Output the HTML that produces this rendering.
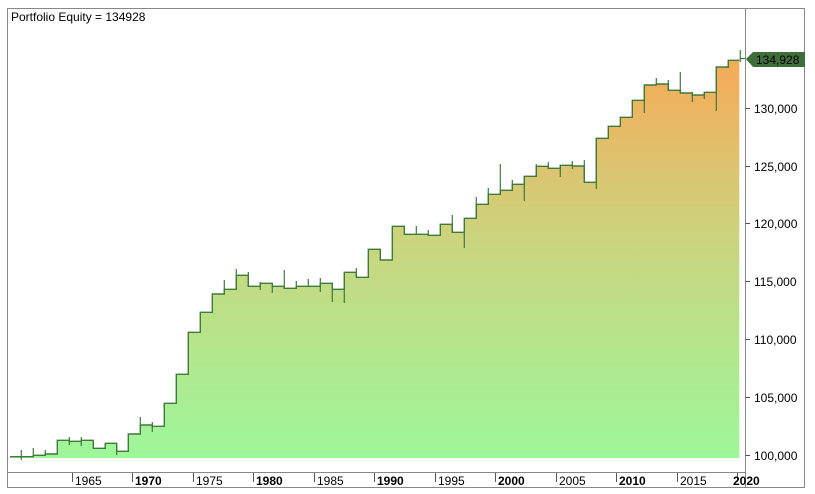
<!DOCTYPE html>
<html><head><style>
html,body{margin:0;padding:0;background:#fff;width:815px;height:494px;overflow:hidden}
svg{display:block;font-family:"Liberation Sans",Arial,sans-serif}
</style></head><body>
<svg width="815" height="494" viewBox="0 0 815 494" xmlns="http://www.w3.org/2000/svg">
<defs>
<linearGradient id="g" x1="0" y1="60" x2="0" y2="457" gradientUnits="userSpaceOnUse">
<stop offset="0" stop-color="#f7aa58"/>
<stop offset="0.45" stop-color="#cbd47e"/>
<stop offset="1" stop-color="#9ef79a"/>
</linearGradient>
</defs>
<rect x="7.5" y="8.5" width="797" height="479" fill="#fff" stroke="#888"/>
<line x1="745.5" y1="8" x2="745.5" y2="488" stroke="#888"/>
<line x1="7" y1="472.5" x2="745" y2="472.5" stroke="#888"/>
<text x="11" y="21" font-size="12" fill="#000">Portfolio Equity = 134928</text>
<path d="M10,456.7 H33.3 V455.3 H45.3 V454 H57.3 V440.3 H69.3 V441.3 H81.3 V440.3 H93.3 V448.3 H105.3 V443.3 H116.7 V451.3 H128.3 V434 H140.3 V425 H152.3 V426.3 H164.3 V403.3 H176.3 V374.3 H188.3 V332.3 H200.3 V312.3 H212.3 V294 H224.3 V289.3 H236.3 V275.3 H248.3 V286.3 H260.3 V283.3 H272.3 V286.3 H284.3 V288.3 H296.3 V286.3 H308.3 V286.3 H320.3 V283.3 H332.3 V289.3 H344.3 V272.3 H356.3 V277.3 H368.3 V249.3 H380.3 V260 H392.3 V226.3 H404.3 V234.3 H416.3 V234.3 H428.3 V235.3 H440.3 V224.3 H452.3 V232.3 H464.3 V218.3 H476.3 V204.3 H488.3 V194.3 H500.3 V190.3 H512.3 V184.3 H524.3 V176.3 H536.3 V166.3 H548.3 V168.3 H560.3 V165.3 H572.3 V166 H584.3 V182.3 H596.3 V138.3 H608.3 V126.3 H620.3 V117.3 H632.3 V100.3 H644.3 V85 H656.3 V84 H668.3 V90.3 H680.3 V93 H692.3 V95 H704.3 V92.3 H716.3 V67 H728.3 V60.3 H739.3 V458 H10 Z" fill="url(#g)"/>
<path d="M10,456.7 H33.3 V455.3 H45.3 V454 H57.3 V440.3 H69.3 V441.3 H81.3 V440.3 H93.3 V448.3 H105.3 V443.3 H116.7 V451.3 H128.3 V434 H140.3 V425 H152.3 V426.3 H164.3 V403.3 H176.3 V374.3 H188.3 V332.3 H200.3 V312.3 H212.3 V294 H224.3 V289.3 H236.3 V275.3 H248.3 V286.3 H260.3 V283.3 H272.3 V286.3 H284.3 V288.3 H296.3 V286.3 H308.3 V286.3 H320.3 V283.3 H332.3 V289.3 H344.3 V272.3 H356.3 V277.3 H368.3 V249.3 H380.3 V260 H392.3 V226.3 H404.3 V234.3 H416.3 V234.3 H428.3 V235.3 H440.3 V224.3 H452.3 V232.3 H464.3 V218.3 H476.3 V204.3 H488.3 V194.3 H500.3 V190.3 H512.3 V184.3 H524.3 V176.3 H536.3 V166.3 H548.3 V168.3 H560.3 V165.3 H572.3 V166 H584.3 V182.3 H596.3 V138.3 H608.3 V126.3 H620.3 V117.3 H632.3 V100.3 H644.3 V85 H656.3 V84 H668.3 V90.3 H680.3 V93 H692.3 V95 H704.3 V92.3 H716.3 V67 H728.3 V60.3 H739.3" fill="none" stroke="#3f7a3a" stroke-width="1.4"/>
<g stroke="#3f7a3a" stroke-width="1.2">
<line x1="21.3" y1="450" x2="21.3" y2="460"/><line x1="33.3" y1="448" x2="33.3" y2="456"/>
<line x1="45.3" y1="450" x2="45.3" y2="455"/><line x1="69.3" y1="437" x2="69.3" y2="445"/>
<line x1="81.3" y1="437" x2="81.3" y2="446"/><line x1="105.3" y1="443" x2="105.3" y2="449"/>
<line x1="116.7" y1="444" x2="116.7" y2="455"/>
<line x1="140.3" y1="417" x2="140.3" y2="432"/><line x1="152.3" y1="422" x2="152.3" y2="432"/>
<line x1="164.3" y1="403" x2="164.3" y2="408"/>
<line x1="224.3" y1="280" x2="224.3" y2="294"/><line x1="236.3" y1="269" x2="236.3" y2="289"/>
<line x1="248.3" y1="272" x2="248.3" y2="286"/><line x1="260.3" y1="282" x2="260.3" y2="290"/>
<line x1="272.3" y1="286" x2="272.3" y2="293"/><line x1="284.3" y1="270" x2="284.3" y2="288"/>
<line x1="296.3" y1="281" x2="296.3" y2="289"/><line x1="308.3" y1="279" x2="308.3" y2="286"/>
<line x1="320.3" y1="278" x2="320.3" y2="292"/><line x1="332.3" y1="289" x2="332.3" y2="302"/>
<line x1="344.3" y1="272" x2="344.3" y2="303"/><line x1="356.3" y1="268" x2="356.3" y2="277"/>
<line x1="416.3" y1="226" x2="416.3" y2="234"/><line x1="428.3" y1="230" x2="428.3" y2="235"/>
<line x1="452.3" y1="215" x2="452.3" y2="232"/><line x1="464.3" y1="232" x2="464.3" y2="248"/>
<line x1="476.3" y1="197" x2="476.3" y2="218"/><line x1="488.3" y1="188" x2="488.3" y2="204"/>
<line x1="500.3" y1="164" x2="500.3" y2="194"/><line x1="512.3" y1="180" x2="512.3" y2="190"/>
<line x1="524.3" y1="176" x2="524.3" y2="201"/><line x1="536.3" y1="164" x2="536.3" y2="176"/>
<line x1="548.3" y1="162" x2="548.3" y2="168"/><line x1="560.3" y1="165" x2="560.3" y2="177"/>
<line x1="572.3" y1="161" x2="572.3" y2="169"/><line x1="584.3" y1="160" x2="584.3" y2="182"/>
<line x1="596.3" y1="138" x2="596.3" y2="189"/>
<line x1="644.3" y1="85" x2="644.3" y2="113"/><line x1="656.3" y1="78" x2="656.3" y2="85"/>
<line x1="668.3" y1="80" x2="668.3" y2="90"/><line x1="680.3" y1="72" x2="680.3" y2="93"/>
<line x1="692.3" y1="92" x2="692.3" y2="102"/><line x1="704.3" y1="92" x2="704.3" y2="99"/>
<line x1="716.3" y1="67" x2="716.3" y2="111"/><line x1="728.3" y1="60" x2="728.3" y2="68"/>
<line x1="740.3" y1="50" x2="740.3" y2="62"/><line x1="740" y1="58.5" x2="745" y2="58.5"/>
</g>
<g font-size="12" fill="#000">
<text x="754" y="460">100,000</text><text x="754" y="402">105,000</text><text x="754" y="344">110,000</text>
<text x="754" y="286">115,000</text><text x="754" y="228">120,000</text><text x="754" y="171">125,000</text>
<text x="754" y="113">130,000</text>
</g>
<g stroke="#555"><line x1="745" y1="455.5" x2="750" y2="455.5"/><line x1="745" y1="397.5" x2="750" y2="397.5"/><line x1="745" y1="339.5" x2="750" y2="339.5"/><line x1="745" y1="281.5" x2="750" y2="281.5"/><line x1="745" y1="223.5" x2="750" y2="223.5"/><line x1="745" y1="166.5" x2="750" y2="166.5"/><line x1="745" y1="108.5" x2="750" y2="108.5"/></g>
<polygon points="746,59 753,52 805,52 805,67 753,67" fill="#3f6e3a"/>
<text x="756" y="64" font-size="12" fill="#000">134,928</text>
<g stroke="#555">
<line x1="72.5" y1="473" x2="72.5" y2="482"/><line x1="132.5" y1="473" x2="132.5" y2="482"/><line x1="193.5" y1="473" x2="193.5" y2="482"/><line x1="253.5" y1="473" x2="253.5" y2="482"/><line x1="314.5" y1="473" x2="314.5" y2="482"/><line x1="374.5" y1="473" x2="374.5" y2="482"/><line x1="435.5" y1="473" x2="435.5" y2="482"/><line x1="495.5" y1="473" x2="495.5" y2="482"/><line x1="556.5" y1="473" x2="556.5" y2="482"/><line x1="616.5" y1="473" x2="616.5" y2="482"/><line x1="677.5" y1="473" x2="677.5" y2="482"/><line x1="737.5" y1="473" x2="737.5" y2="482"/>
</g>
<g font-size="12" fill="#000">
<text x="75" y="485">1965</text><text x="135" y="485" font-weight="bold">1970</text><text x="196" y="485">1975</text><text x="256" y="485" font-weight="bold">1980</text><text x="317" y="485">1985</text><text x="377" y="485" font-weight="bold">1990</text><text x="438" y="485">1995</text><text x="498" y="485" font-weight="bold">2000</text><text x="559" y="485">2005</text><text x="619" y="485" font-weight="bold">2010</text><text x="680" y="485">2015</text><text x="733" y="485" font-weight="bold">2020</text>
</g>
</svg>
</body></html>
